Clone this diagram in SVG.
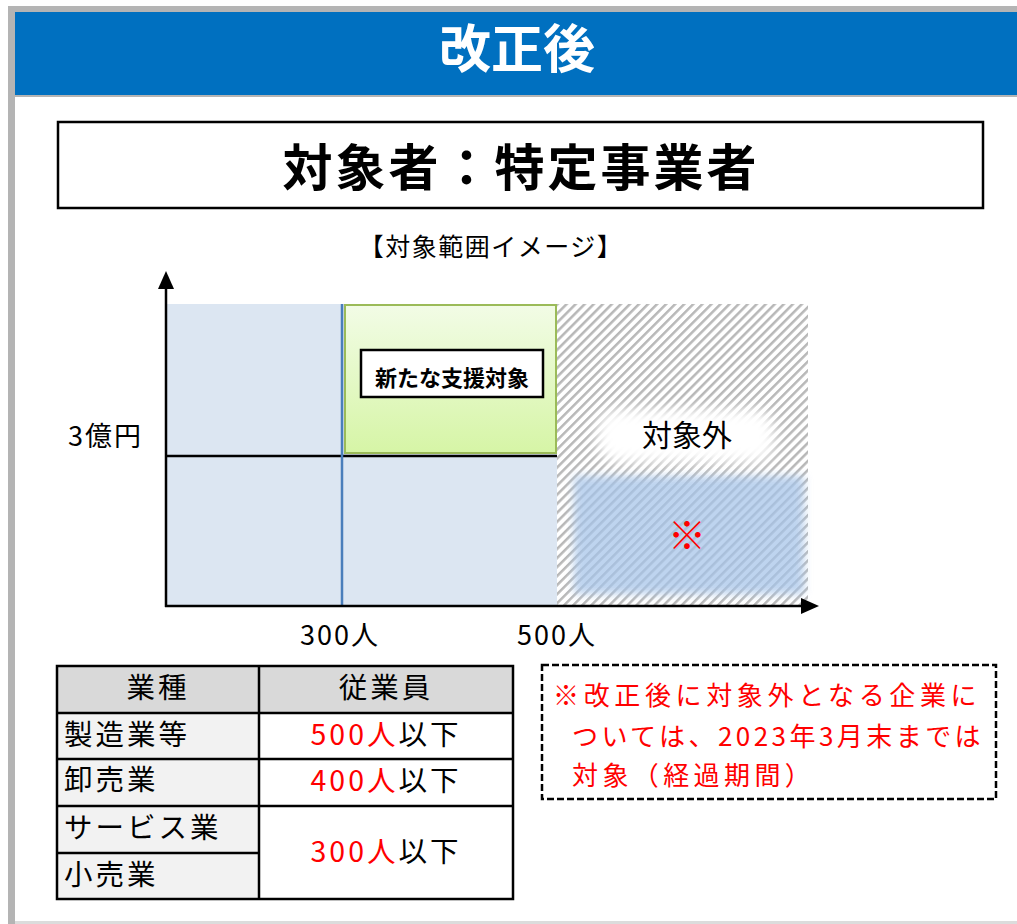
<svg xmlns="http://www.w3.org/2000/svg" width="1017" height="924" viewBox="0 0 1017 924">
<defs>
<style>
text{font-family:"Noto Sans CJK JP","Noto Sans",sans-serif;fill:#000}
.lbl{font-size:27px;letter-spacing:2px}
.cell{font-size:28.5px;letter-spacing:3px}
.red{fill:#ff0000}
.note{font-size:26px;letter-spacing:4.4px;fill:#ff0000}
.grid{stroke:#000;stroke-width:2.5;fill:none}
.axis{stroke:#000;stroke-width:2.5;fill:none}
</style>
<linearGradient id="green" x1="0" y1="0" x2="0" y2="1"><stop offset="0" stop-color="#f2fce6"/><stop offset="1" stop-color="#d6f5a6"/></linearGradient>
<pattern id="hatch" patternUnits="userSpaceOnUse" width="6.4" height="6.4" patternTransform="rotate(45)"><rect width="6.4" height="6.4" fill="#fff"/><rect x="0" y="0" width="2.5" height="6.4" fill="#b8b8b8"/></pattern>
<filter id="blurW" x="-30%" y="-60%" width="160%" height="220%"><feGaussianBlur stdDeviation="7"/></filter>
<filter id="blurB" x="-20%" y="-30%" width="140%" height="160%"><feGaussianBlur stdDeviation="4"/></filter>
<marker id="arr" viewBox="0 0 18 16" refX="0" refY="8" markerWidth="18" markerHeight="16" markerUnits="userSpaceOnUse" orient="auto"><path d="M0,0 L18,8 L0,16 z" fill="#000"/></marker>
</defs>
<rect width="1017" height="924" fill="#fff"/>
<g id="frame">
<rect x="8" y="6" width="1009" height="6" fill="#b4b4b4"/>
<rect x="8" y="6" width="7" height="918" fill="#b4b4b4"/>
<rect x="15" y="921" width="1002" height="3" fill="#dcdcdc"/>
</g>
<g id="header">
<rect x="15" y="12" width="1002" height="83" fill="#0070c0"/>
<rect x="15" y="95" width="1002" height="2" fill="#b4b4b4"/>
<text x="517" y="68" text-anchor="middle" font-size="52" font-weight="bold" style="fill:#fff">改正後</text>
</g>
<g id="title">
<rect x="58" y="122" width="925" height="86" fill="#fff" stroke="#000" stroke-width="2.5"/>
<text x="521" y="186" text-anchor="middle" font-size="50" font-weight="bold" letter-spacing="3">対象者：特定事業者</text>
</g>
<text x="491" y="256" text-anchor="middle" font-size="25" letter-spacing="1.5">【対象範囲イメージ】</text>
<g id="chart">
<rect x="167" y="304" width="390" height="301" fill="#dce6f2"/>
<rect x="557" y="304" width="251" height="301" fill="url(#hatch)"/>
<rect x="574" y="476" width="230" height="118" fill="#a6c4e9" opacity="0.72" filter="url(#blurB)"/>
<rect x="598" y="410" width="176" height="52" rx="20" fill="#fff" filter="url(#blurW)"/>
<rect x="345" y="305" width="211" height="148" fill="url(#green)" stroke="#9bbb59" stroke-width="2"/>
<line x1="167" y1="456" x2="557" y2="456" stroke="#000" stroke-width="2.5"/>
<line x1="342" y1="304" x2="342" y2="605" stroke="#4a7ebb" stroke-width="2.5"/>
</g>
<g id="node-new">
<rect x="361" y="350" width="182" height="47" fill="#fff" stroke="#000" stroke-width="2.5"/>
<text x="452" y="386" text-anchor="middle" font-size="22" font-weight="bold">新たな支援対象</text>
</g>
<g id="node-out">
<text x="687" y="446" text-anchor="middle" font-size="30">対象外</text>
<text x="687" y="549" text-anchor="middle" font-size="38" class="red">※</text>
</g>
<g id="connectors">
<line class="axis" x1="166" y1="607" x2="166" y2="289" marker-end="url(#arr)"/>
<line class="axis" x1="165" y1="606" x2="801" y2="606" marker-end="url(#arr)"/>
</g>
<g id="axis-labels">
<text class="lbl" x="68" y="446">3億円</text>
<text class="lbl" x="300" y="645">300人</text>
<text class="lbl" x="517" y="645">500人</text>
</g>
<g id="table">
<rect x="57" y="666" width="456" height="47" fill="#d9d9d9"/>
<rect x="57" y="713" width="202" height="186" fill="#f2f2f2"/>
<rect x="259" y="713" width="254" height="186" fill="#fff"/>
<rect class="grid" x="57" y="666" width="456" height="233"/>
<line class="grid" x1="259" y1="666" x2="259" y2="899"/>
<line class="grid" x1="57" y1="713" x2="513" y2="713"/>
<line class="grid" x1="57" y1="759" x2="513" y2="759"/>
<line class="grid" x1="57" y1="806" x2="513" y2="806"/>
<line class="grid" x1="57" y1="853" x2="259" y2="853"/>
<text class="cell" x="158" y="698" text-anchor="middle">業種</text>
<text class="cell" x="386" y="698" text-anchor="middle">従業員</text>
<text class="cell" x="64" y="745">製造業等</text>
<text class="cell" x="64" y="790">卸売業</text>
<text class="cell" x="64" y="838">サービス業</text>
<text class="cell" x="64" y="885">小売業</text>
<text class="cell" x="386" y="745" text-anchor="middle"><tspan class="red">500人</tspan>以下</text>
<text class="cell" x="386" y="791" text-anchor="middle"><tspan class="red">400人</tspan>以下</text>
<text class="cell" x="386" y="862" text-anchor="middle"><tspan class="red">300人</tspan>以下</text>
</g>
<g id="note">
<rect x="542" y="665" width="454" height="134" fill="#fff" stroke="#000" stroke-width="2.5" stroke-dasharray="7 3"/>
<text class="note" x="553" y="705" textLength="428" lengthAdjust="spacing">※改正後に対象外となる企業に</text>
<text class="note" x="572" y="746" textLength="413" lengthAdjust="spacing">ついては、2023年3月末までは</text>
<text class="note" x="572" y="785">対象（経過期間）</text>
</g>
</svg>
